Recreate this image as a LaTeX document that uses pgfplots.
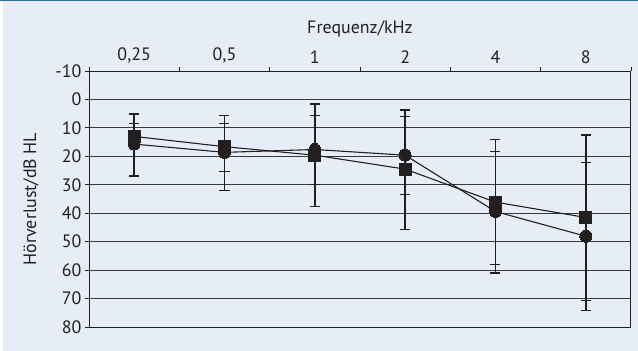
\documentclass[border=0pt]{standalone}
\usepackage{fontspec}
\setmainfont{PT Sans}
\usepackage{pgfplots}
\pgfplotsset{compat=1.18}
\definecolor{bg}{HTML}{E6EDF7}
\definecolor{topblue}{HTML}{1F6FBF}
\definecolor{ink}{HTML}{231F20}
\definecolor{gridc}{HTML}{3A3A3A}
\begin{document}
\begin{tikzpicture}
\useasboundingbox (0,0) rectangle (638bp,351bp);
\fill[white] (0,0) rectangle (638bp,351bp);
\fill[bg] (3bp,0) rectangle (638bp,351bp);
\fill[topblue] (0,349.5bp) rectangle (638bp,351bp);
\begin{axis}[
  at={(89bp,24bp)}, anchor=south west,
  scale only axis, width=542bp, height=256bp,
  xmin=-0.5, xmax=5.5, ymin=-10, ymax=80, y dir=reverse,
  xtick={-0.5,0.5,1.5,2.5,3.5,4.5,5.5},
  xticklabels={{0,25},{0,5},1,2,4,8,{}},
  xticklabel style={xshift=45.17bp},
  xtick pos=upper, xticklabel pos=upper,
  ytick={-10,0,10,20,30,40,50,60,70,80},
  yticklabels={-10,0,10,20,30,40,50,60,70,80},
  ytick pos=left,
  tick align=outside, major tick length=4bp,
  tick style={ink, line width=0.9bp},
  ymajorgrids, grid style={gridc, line width=0.8bp},
  axis line style={ink, line width=1bp},
  xlabel={Frequenz/kHz}, ylabel={Hörverlust/dB HL},
  xlabel style={yshift=4bp},
  ylabel style={yshift=10bp},
  tick label style={font=\fontsize{18}{21}\selectfont, text=ink},
  label style={font=\fontsize{18}{21}\selectfont, text=ink},
  clip=false,
]
\addplot[ink, line width=1.1bp, mark=square*, mark size=6bp, mark options={solid, fill=ink, draw=ink, line width=0pt},
  error bars/.cd, y dir=both, y explicit, error mark options={rotate=90, mark size=5bp, line width=1.1bp, ink},
  error bar style={line width=1.9bp, ink}]
coordinates {
(0,13)   += (0,13.9) -= (0,7.9)
(1,16.6) += (0,8.6) -= (0,10.9)
(2,19.6) += (0,10.2) -= (0,14.1)
(3,24.5) += (0,8.8) -= (0,18.5)
(4,36.1) += (0,22.0) -= (0,17.9)
(5,41.5) += (0,29.2) -= (0,19.3)
};
\addplot[ink, line width=1.1bp, mark=*, mark size=6bp, mark options={solid, fill=ink, draw=ink, line width=0pt},
  error bars/.cd, y dir=both, y explicit, error mark options={rotate=90, mark size=5bp, line width=1.1bp, ink},
  error bar style={line width=1.9bp, ink}]
coordinates {
(0,15.7) += (0,11.2) -= (0,7.4)
(1,18.6) += (0,13.5) -= (0,10.3)
(2,17.6) += (0,20.0) -= (0,16.0)
(3,19.6) += (0,26.0) -= (0,15.9)
(4,39.4) += (0,21.6) -= (0,25.3)
(5,48.1) += (0,26.1) -= (0,35.6)
};
\end{axis}
\end{tikzpicture}
\end{document}
